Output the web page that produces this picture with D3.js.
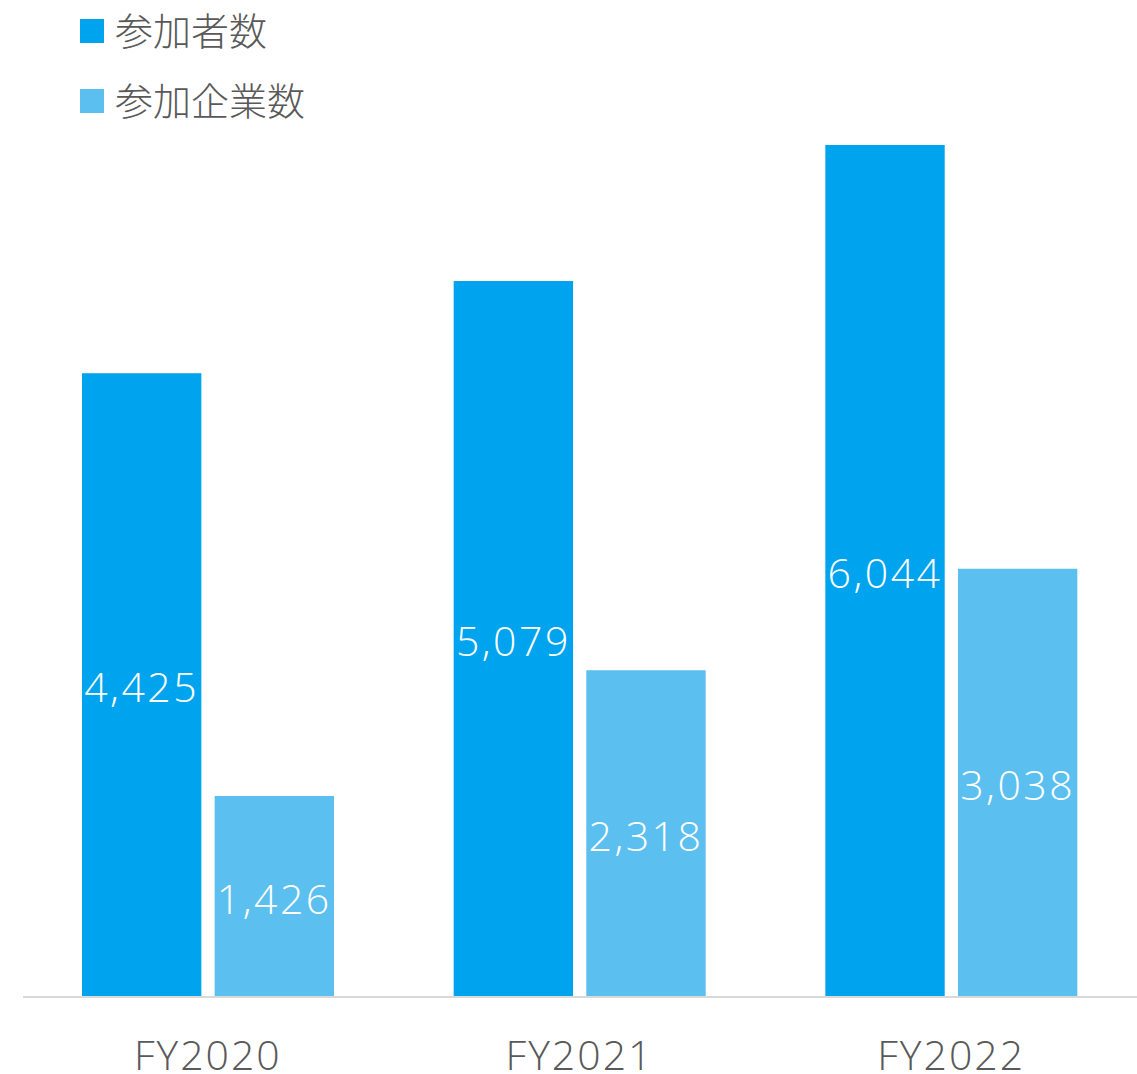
<!DOCTYPE html>
<html>
<head>
<meta charset="utf-8">
<script src="https://cdn.jsdelivr.net/npm/d3@7"></script>
<style>
  html, body { margin: 0; padding: 0; background: #ffffff; }
  svg { display: block; }
  text { font-family: "Open Sans", "Noto Sans CJK JP", sans-serif; }
</style>
</head>
<body>
<div id="chart"></div>
<script>
// Participants and participating companies per fiscal year
const years = ["FY2020", "FY2021", "FY2022"];
const seriesNames = ["参加者数", "参加企業数"];
const participants = [4425, 5079, 6044];
const companies = [1426, 2318, 3038];
const seriesColors = ["#00a3ee", "#5bc0f0"];

const W = 1137, H = 1074;
const baseY = 997;
const svg = d3.select("#chart").append("svg")
  .attr("width", W).attr("height", H);

const x0 = d3.scaleBand().domain(years).range([22, 1137]).paddingInner(0).paddingOuter(0);
const x1 = d3.scaleBand().domain(seriesNames).range([60, 312]).paddingInner(0.1);
const y = d3.scaleLinear().domain([0, 6044]).range([baseY, 145]);

const values = [participants, companies];
const rows = years.map((yr, i) => seriesNames.map((s, j) => ({ yr, s, j, v: values[j][i] })));

const fmt = d3.format(",");
const g = svg.selectAll("g.grp").data(rows).join("g")
  .attr("class", "grp")
  .attr("transform", (d, i) => `translate(${x0(years[i])},0)`);

g.selectAll("rect").data(d => d).join("rect")
  .attr("x", d => x1(d.s))
  .attr("width", x1.bandwidth())
  .attr("y", d => y(d.v))
  .attr("height", d => baseY - y(d.v))
  .attr("fill", d => seriesColors[d.j]);

g.selectAll("text.val").data(d => d).join("text")
  .attr("class", "val")
  .attr("x", d => x1(d.s) + x1.bandwidth() / 2)
  .attr("y", d => (y(d.v) + baseY) / 2)
  .attr("dy", "0.42em")
  .attr("text-anchor", "middle")
  .attr("fill", "#ffffff")
  .attr("font-size", 41)
  .attr("font-weight", 300)
  .attr("letter-spacing", 2.5)
  .text(d => fmt(d.v));

// Category axis
const axis = svg.append("g").attr("transform", `translate(0,${baseY})`)
  .call(d3.axisBottom(x0).tickSize(0).tickPadding(44));
axis.select(".domain").attr("stroke", "#d9d9d9").attr("stroke-width", 2)
  .attr("d", `M23,0H1137`);
axis.selectAll("text")
  .attr("font-size", 41)
  .attr("font-weight", 300)
  .attr("fill", "#595959")
  .attr("letter-spacing", 2)
  .style("font-family", '"Open Sans", "Noto Sans CJK JP", sans-serif');

// Legend
const legend = svg.selectAll("g.leg").data(seriesNames).join("g")
  .attr("class", "leg")
  .attr("transform", (d, i) => `translate(80,${19 + i * 70})`);
legend.append("rect").attr("width", 24).attr("height", 24)
  .attr("fill", (d, i) => seriesColors[i]);
legend.append("text")
  .attr("x", 35).attr("y", 12).attr("dy", "0.36em")
  .attr("font-size", 38)
  .attr("font-weight", 300)
  .attr("fill", "#595959")
  .style("font-family", '"Noto Sans CJK JP", sans-serif')
  .text(d => d);
</script>
</body>
</html>
